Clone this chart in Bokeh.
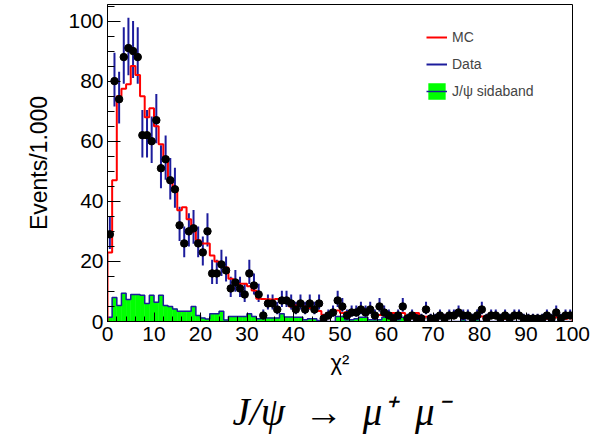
import numpy as np
from bokeh.plotting import figure
from bokeh.models import (ColumnDataSource, Range1d, SingleIntervalTicker,
                          Legend, LegendItem, Title)
from bokeh.embed import file_html
from bokeh.resources import INLINE

# ---- data (1 unit wide bins from 0 to 100) ----
bin_lo = list(range(0, 100))

data_counts = [29, 80, 74, 88, 91, 90, 88, 62, 62, 60,
               67, 51, 54, 47, 44, 32, 26, 30, 31, 26,
               23, 30, 16, 16, 19, 17, 11, 13, 11, 9,
               16, 12, 9, 2, 6, 6, 4, 7, 7, 6,
               4, 6, 4, 6, 4, 6, 1, 2, 3, 7,
               5, 2, 3, 3, 4, 3, 4, 2, 5, 3,
               2, 1, 2, 5, 1, 2, 1, 1, 4, 1,
               1, 2, 1, 2, 2, 3, 2, 2, 1, 2,
               4, 1, 2, 2, 1, 2, 1, 2, 2, 1,
               1, 1, 1, 1, 2, 1, 3, 1, 2, 2]

mc_counts = [23, 47, 75, 77.5, 79, 85, 82, 75, 68, 71,
             65, 59, 54, 46.5, 44, 37, 38, 34, 30, 27,
             26, 26, 22, 20, 19.5, 18, 14.2, 13, 12.6, 12.6,
             11.7, 10.3, 7.6, 7.5, 7.4, 7.3, 7.5, 7, 7, 5,
             5.3, 5.3, 5, 4.5, 4.2, 3.5, 2.2, 2.8, 3.5, 3.7,
             2.8, 3.1, 3.1, 3.7, 3.7, 3.7, 3.7, 2.5, 2.2, 2.1,
             2, 2.8, 2.8, 2.8, 1.5, 1.4, 2.8, 1.7, 1.6, 0.8,
             0.8, 1.4, 2, 2, 2.5, 2.5, 1.7, 2.1, 1.1, 1.7,
             1.7, 0.5, 1.7, 1.7, 1.7, 0.9, 1.2, 1.4, 1.4, 0.9,
             1.7, 0.5, 1.0, 1.4, 0.9, 1.4, 1.4, 0.9, 0.9, 1.4]

sideband_counts = [1.4, 8, 5.3, 9.4, 7.3, 9, 9, 8.7, 6, 8.7,
                   6.4, 8.7, 5.3, 5, 4.2, 3.4, 3.4, 3.4, 5, 2,
                   1.2, 0.8, 2.6, 2.6, 3.4, 0.5, 1.7, 1.7, 1.7, 1.7,
                   2.6, 1.7, 0.9, 1, 1.2, 1.2, 1.2, 2.6, 1.5, 1.5,
                   1.4, 1.4, 0.6, 0.9, 0.9, 0.3, 0, 0, 0, 1.7,
                   1.7, 0.6, 0.6, 0.9, 1.4, 1.4, 0.6, 0.6, 0.6, 1.4,
                   1.4, 0.6, 0.6, 1.4, 0, 0, 0, 0, 0, 0,
                   0, 0, 0, 0, 0, 0, 0.6, 0, 0, 0.6,
                   0, 0.6, 0, 0, 0, 0, 0, 0, 0, 0,
                   0, 0.6, 0, 0, 0, 0, 0, 0, 0, 0]

x_label = "χ²"
y_label = "Events/1.000"
legend_labels = ["MC", "Data", "J/ψ sidaband"]
caption = "J/ψ\u2002→\u2002μ⁺\u2002μ⁻"

# ---- derived ----
lo = np.array(bin_lo, dtype=float)
hi = lo + 1.0
xc = lo + 0.5
n = np.array(data_counts, dtype=float)
err_lo = n - np.sqrt(n + 0.25) + 0.5
err_hi = n + np.sqrt(n + 0.25) + 0.5

def step_xy(vals):
    xs = [lo[0]] + list(lo) + [hi[-1]]
    ys = [0.0] + list(vals) + [0.0]
    return xs, ys

BLUE = "#1c1c9c"
RED = "#ff0000"
GREEN = "#00ff00"
FONT = "Liberation Sans"

p = figure(width=591, height=446, x_range=Range1d(0, 100), y_range=Range1d(0, 105.5),
           output_backend="svg", toolbar_location=None,
           min_border_left=107, min_border_right=19, min_border_top=4, min_border_bottom=125)
p.grid.visible = False
p.outline_line_color = "black"
p.outline_line_width = 1
p.background_fill_color = "white"
p.border_fill_color = "white"

# sideband
sb_src = ColumnDataSource(dict(left=lo, right=hi, top=sideband_counts, bottom=np.zeros_like(lo)))
r_sb_fill = p.quad(left="left", right="right", top="top", bottom="bottom", source=sb_src,
                   fill_color=GREEN, line_color=GREEN, line_width=0.5)
sx, sy = step_xy(sideband_counts)
r_sb_line = p.step(sx, sy, mode="after", line_color=BLUE, line_width=1.5)

# data error bars
d_src = ColumnDataSource(dict(x=xc, y=n, lo=err_lo, hi=err_hi))
r_err = p.segment(x0="x", y0="lo", x1="x", y1="hi", source=d_src, line_color=BLUE, line_width=2)

# MC
mx, my = step_xy(mc_counts)
r_mc = p.step(mx, my, mode="after", line_color=RED, line_width=2)

# data points
p.scatter(x="x", y="y", source=d_src, size=7.5, fill_color="black", line_color="black")

# axes
p.xaxis.ticker = SingleIntervalTicker(interval=10, num_minor_ticks=5)
p.yaxis.ticker = SingleIntervalTicker(interval=20, num_minor_ticks=4)
for ax in (p.xaxis[0], p.yaxis[0]):
    ax.major_tick_out = 0
    ax.minor_tick_out = 0
    ax.axis_line_color = "black"
    ax.major_tick_line_color = "black"
    ax.minor_tick_line_color = "black"
    ax.major_label_text_font = FONT
    ax.major_label_text_font_size = "21px"
    ax.major_label_text_color = "black"
    ax.axis_label_text_font = FONT
    ax.axis_label_text_font_style = "normal"
    ax.axis_label_text_color = "black"
p.xaxis.major_tick_in = 9
p.xaxis.minor_tick_in = 5
p.yaxis.major_tick_in = 13
p.yaxis.minor_tick_in = 7
p.xaxis.major_label_standoff = 5
p.yaxis.major_label_standoff = 4
p.xaxis.axis_label = x_label
p.yaxis.axis_label = y_label
p.xaxis.axis_label_text_font_size = "22px"
p.yaxis.axis_label_text_font_size = "23px"
p.xaxis.axis_label_standoff = 6
p.yaxis.axis_label_standoff = 13

# legend
legend = Legend(items=[
    LegendItem(label=legend_labels[0], renderers=[r_mc]),
    LegendItem(label=legend_labels[1], renderers=[r_err]),
    LegendItem(label=legend_labels[2], renderers=[r_sb_fill, r_sb_line]),
], location="top_right")
legend.margin = 12
legend.padding = 11
legend.glyph_width = 21
legend.glyph_height = 20
legend.label_height = 20
legend.label_width = 97
legend.label_standoff = 5
legend.spacing = 7
legend.label_text_font = FONT
legend.label_text_font_size = "14px"
legend.background_fill_alpha = 0
legend.border_line_alpha = 0
p.add_layout(legend)

# caption below the x axis
cap = Title(text=caption, align="center", offset=28, standoff=20,
            text_font="Liberation Serif", text_font_style="italic",
            text_font_size="39px", text_color="black")
p.add_layout(cap, "below")

open("out.html", "w").write(file_html(p, INLINE))
